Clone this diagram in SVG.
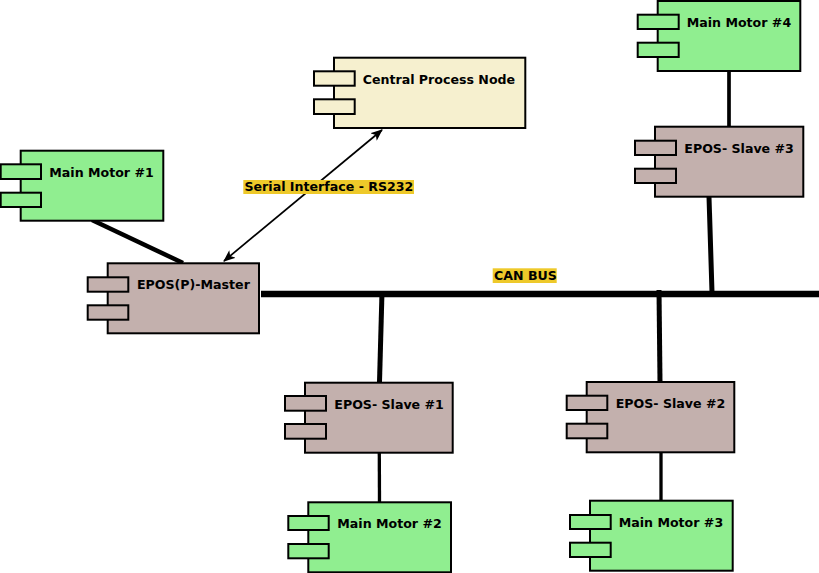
<svg xmlns="http://www.w3.org/2000/svg" width="819" height="573" viewBox="0 0 819 573">
<defs>
<style>
.box{stroke:#000;stroke-width:2}
.motor{fill:#90ee90}
.epos{fill:#c3b0ad}
.cpn{fill:#f6f0cf}
.t{font-family:"DejaVu Sans",sans-serif;font-weight:bold;font-size:12.6px;fill:#000}
.lbl{fill:#eec92a}
.wire{stroke:#000;fill:none}
</style>
<marker id="ah" viewBox="0 0 12 10" refX="11" refY="5" markerWidth="12" markerHeight="10" markerUnits="userSpaceOnUse" orient="auto-start-reverse">
<path d="M0,0 L12,5 L0,10 L3,5 z" fill="#000"/>
</marker>
</defs>
<rect width="819" height="573" fill="#fff"/>

<g id="connectors">
<line class="wire" x1="92" y1="220" x2="183" y2="263" stroke-width="4.5"/>
<line class="wire" x1="382" y1="130" x2="224" y2="261" stroke-width="1.7" marker-start="url(#ah)" marker-end="url(#ah)"/>
<line class="wire" x1="729" y1="71" x2="729" y2="127" stroke-width="3.7"/>
<line class="wire" x1="709" y1="197" x2="712" y2="292" stroke-width="5"/>
<line class="wire" x1="261" y1="294" x2="819" y2="294" stroke-width="6.5"/>
<line class="wire" x1="382" y1="292" x2="379.5" y2="382" stroke-width="5"/>
<line class="wire" x1="379.3" y1="453" x2="379.5" y2="502" stroke-width="3.3"/>
<line class="wire" x1="659" y1="290" x2="660" y2="382" stroke-width="5"/>
<line class="wire" x1="661" y1="452" x2="661" y2="501" stroke-width="3.3"/>
<rect class="lbl" x="243.3" y="180" width="170.7" height="14"/>
<text class="t" x="244.5" y="191">Serial Interface - RS232</text>
<rect class="lbl" x="492.7" y="268.3" width="64" height="14.7"/>
<text class="t" x="494" y="280.3">CAN BUS</text>
</g>

<g id="central">
<rect class="box cpn" x="334" y="57.7" width="191.3" height="70.3"/>
<rect class="box cpn" x="314" y="71.3" width="40.7" height="14.4"/>
<rect class="box cpn" x="314" y="99.3" width="40.7" height="14.7"/>
<text class="t" x="362.7" y="84">Central Process Node</text>
</g>

<g id="motor1">
<rect class="box motor" x="20.7" y="150.7" width="142.6" height="70"/>
<rect class="box motor" x="0.7" y="164.3" width="40.3" height="14.7"/>
<rect class="box motor" x="0.7" y="192.7" width="40.3" height="14.3"/>
<text class="t" x="49.3" y="176.7">Main Motor #1</text>
</g>

<g id="master">
<rect class="box epos" x="107.7" y="263.3" width="151.3" height="70"/>
<rect class="box epos" x="87.7" y="277.3" width="40.6" height="14.4"/>
<rect class="box epos" x="87.7" y="305.3" width="40.6" height="14.4"/>
<text class="t" x="137" y="289.3">EPOS(P)-Master</text>
</g>

<g id="motor4">
<rect class="box motor" x="657.7" y="1" width="142.6" height="70"/>
<rect class="box motor" x="637.7" y="14.7" width="41" height="14.3"/>
<rect class="box motor" x="637.7" y="42.7" width="41" height="14.3"/>
<text class="t" x="686.7" y="26.7">Main Motor #4</text>
</g>

<g id="slave3">
<rect class="box epos" x="655" y="126.7" width="148.3" height="70"/>
<rect class="box epos" x="635" y="140.7" width="41" height="14.3"/>
<rect class="box epos" x="635" y="168.7" width="41" height="14.3"/>
<text class="t" x="684.3" y="153.3">EPOS- Slave #3</text>
</g>

<g id="slave1">
<rect class="box epos" x="305" y="382.7" width="147.7" height="70"/>
<rect class="box epos" x="285" y="396" width="41" height="14.7"/>
<rect class="box epos" x="285" y="424" width="41" height="14.7"/>
<text class="t" x="334.3" y="409">EPOS- Slave #1</text>
</g>

<g id="motor2">
<rect class="box motor" x="308.3" y="502.3" width="142.7" height="70"/>
<rect class="box motor" x="288.3" y="516" width="40.4" height="14"/>
<rect class="box motor" x="288.3" y="544" width="40.4" height="14.3"/>
<text class="t" x="337.3" y="527.7">Main Motor #2</text>
</g>

<g id="slave2">
<rect class="box epos" x="586.7" y="382" width="147.6" height="70.3"/>
<rect class="box epos" x="566.7" y="395.7" width="40.6" height="14.3"/>
<rect class="box epos" x="566.7" y="423.7" width="40.6" height="14.6"/>
<text class="t" x="615.7" y="407.7">EPOS- Slave #2</text>
</g>

<g id="motor3">
<rect class="box motor" x="590" y="500.7" width="142.7" height="70"/>
<rect class="box motor" x="570" y="515" width="40.7" height="14"/>
<rect class="box motor" x="570" y="542.7" width="40.7" height="14.3"/>
<text class="t" x="618.7" y="526.7">Main Motor #3</text>
</g>
</svg>
